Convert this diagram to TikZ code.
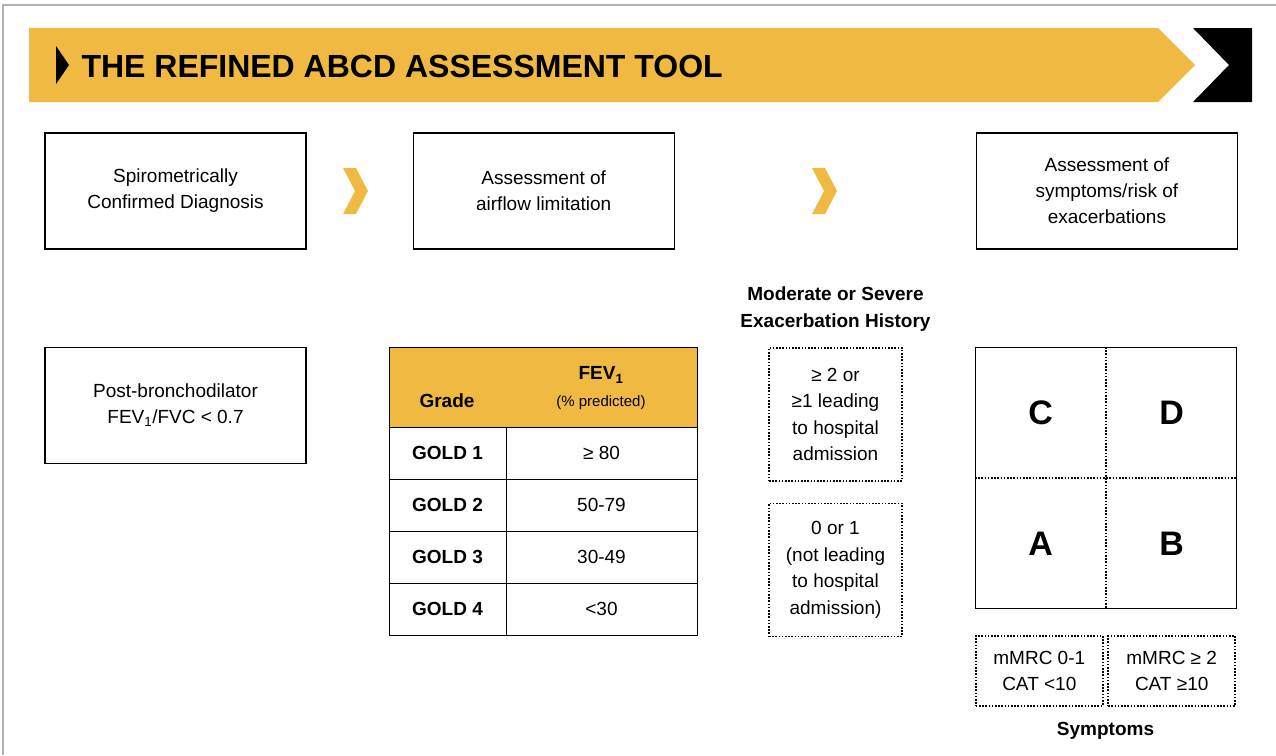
\documentclass[tikz,border=0pt]{standalone}
\usepackage{fontspec}
\setmainfont{Liberation Sans}
\usetikzlibrary{positioning, calc}
\definecolor{gold}{RGB}{240,185,65}
\definecolor{framegray}{RGB}{178,178,184}
\tikzset{
  box/.style={draw, line width=1.2pt, align=center, minimum width=261,
    minimum height=116, font=\fontsize{19}{26}\selectfont}, % plain step box
  dotline/.style={line width=1.6pt, dash pattern=on 1.6pt off 1.6pt},
  dotbox/.style={draw, dotline, align=center,
    font=\fontsize{19}{26.5}\selectfont}, % dotted criteria box
  cell/.style={draw, line width=1pt, outer sep=0pt, minimum height=52,
    font=\fontsize{19}{24}\selectfont}, % one cell of the GOLD table
  heading/.style={align=center, font=\bfseries\fontsize{19}{26.5}\selectfont},
  letter/.style={font=\bfseries\fontsize{34}{40}\selectfont},
}

\begin{document}
\begin{tikzpicture}[x=1pt, y=-1pt]
  \useasboundingbox (0,0) rectangle (1276,755);
  \draw[framegray, line width=1.5pt] (3,755) -- (3,5) -- (1276,5);

  % title banner
  \fill[gold] (29,28) -- (1158,28) -- (1195,65) -- (1158,102) -- (29,102) -- cycle;
  \fill[black] (1193,28) -- (1252,28) -- (1252,102) -- (1193,102) -- (1229,65) -- cycle;
  \fill[black] (56,46) -- (69,65) -- (56,84) -- cycle;
  \node[anchor=west, font=\bfseries\fontsize{32}{36}\selectfont] (title) at (78,66)
    {THE REFINED ABCD ASSESSMENT TOOL};

  % top row of steps
  \node[box] (spiro_box) at (175.5,191) {Spirometrically\\Confirmed Diagnosis};
  \node[box, right=106pt of spiro_box] (airflow_box) {Assessment of\\airflow limitation};
  \node[box, right=301pt of airflow_box] (risk_box) {Assessment of\\symptoms/risk of\\exacerbations};
  \foreach \cx in {343, 812}
    \fill[gold] (\cx,168) -- ++(13,0) -- ++(12,23) -- ++(-12,23) -- ++(-13,0)
      -- ++(12,-23) -- cycle;

  \node[box, below=97pt of spiro_box] (post_box) {Post-bronchodilator\\FEV\textsubscript{1}/FVC < 0.7};

  % GOLD grades table
  \node[draw, fill=gold, line width=1pt, minimum width=308, minimum height=80,
    anchor=north west] (fev_head) at (389,347) {};
  \node[font=\bfseries\fontsize{19}{24}\selectfont] (grade_label) at (447,401) {Grade};
  \node[font=\bfseries\fontsize{19}{24}\selectfont] (fev_label) at (601,375) {FEV\textsubscript{1}};
  \node[font=\fontsize{15}{18}\selectfont] (pred_label) at (601,403) {(\% predicted)};
  \foreach \v [count=\i] in {≥ 80, 50-79, 30-49, <30} {
    \node[cell, minimum width=117, anchor=north west, font=\bfseries\fontsize{19}{24}\selectfont]
      (gold_\i) at (389,{375+52*\i}) {GOLD \i};
    \node[cell, minimum width=191, right=0pt of gold_\i] (fev_\i) {\v};
  }

  % exacerbation history
  \node[heading] (exac_title) at (835.5,309) {Moderate or Severe\\Exacerbation History};
  \node[dotbox, minimum width=133, minimum height=133, anchor=north] (exac_high) at (835.5,347)
    {≥ 2 or\\≥1 leading\\to hospital\\admission};
  \node[dotbox, minimum width=133, minimum height=133, below=21pt of exac_high] (exac_low)
    {0 or 1\\(not leading\\to hospital\\admission)};

  % ABCD grid
  \node[draw, line width=1.2pt, minimum size=261, anchor=north west] (abcd_grid) at (975,347) {};
  \draw[dotline] (abcd_grid.north) -- (abcd_grid.south);
  \draw[dotline] (abcd_grid.west) -- (abcd_grid.east);
  \node[letter] (group_c) at ($(abcd_grid.center)!0.5!(abcd_grid.north west)$) {C};
  \node[letter] (group_d) at ($(abcd_grid.center)!0.5!(abcd_grid.north east)$) {D};
  \node[letter] (group_a) at ($(abcd_grid.center)!0.5!(abcd_grid.south west)$) {A};
  \node[letter] (group_b) at ($(abcd_grid.center)!0.5!(abcd_grid.south east)$) {B};

  % symptom scores
  \node[dotbox, minimum width=127, minimum height=70, anchor=north west] (sym_low) at (975,635)
    {mMRC 0-1\\CAT <10};
  \node[dotbox, minimum width=127, minimum height=70, anchor=north east] (sym_high) at (1236,635)
    {mMRC ≥ 2\\CAT ≥10};
  \node[heading] (sym_title) at (1105.5,731) {Symptoms};
\end{tikzpicture}
\end{document}
